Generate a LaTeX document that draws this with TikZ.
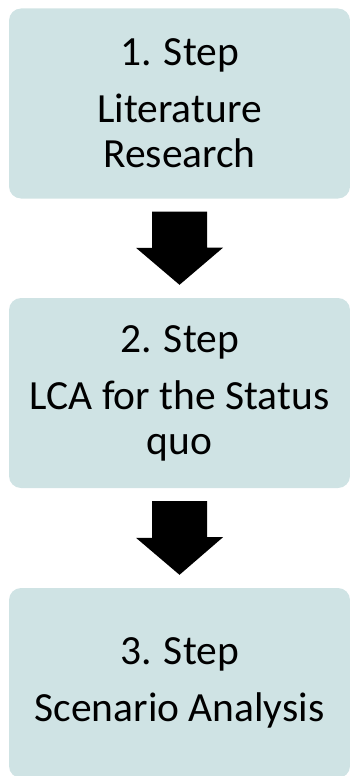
\documentclass[tikz,border=0pt]{standalone}
\usepackage{fontspec}
\setmainfont{Carlito}
\usepackage{xcolor}
\usetikzlibrary{calc}
\definecolor{stepfill}{HTML}{CFE3E4}

\begin{document}
\begin{tikzpicture}[x=1pt, y=1pt,
  stepbox/.style={fill=stepfill, rounded corners=12pt, minimum width=341pt, minimum height=190pt, align=center, inner sep=0pt, font=\fontsize{41.5}{45}\selectfont},
  blockarrow/.style={fill=black},
]
\useasboundingbox (0,0) rectangle (349,-776);
\node[stepbox] (s1) at (179.5,-103.5) {1. Step\\[12pt]Literature\\Research};
\node[stepbox] (s2) at (179.5,-393) {2. Step\\[12pt]LCA for the Status\\quo};
\node[stepbox] (s3) at (179.5,-683) {3. Step\\[12pt]Scenario Analysis};

\fill[blockarrow] ([shift={(-27.5,-13)}]s1.south) -- ++(55,0) -- ++(0,-36) -- ++(16,0) -- ([yshift=13pt]s2.north) -- ++(-43.5,37) -- ++(16,0) -- cycle;
\fill[blockarrow] ([shift={(-27.5,-13)}]s2.south) -- ++(55,0) -- ++(0,-36) -- ++(16,0) -- ([yshift=13pt]s3.north) -- ++(-43.5,37) -- ++(16,0) -- cycle;
\end{tikzpicture}
\end{document}
